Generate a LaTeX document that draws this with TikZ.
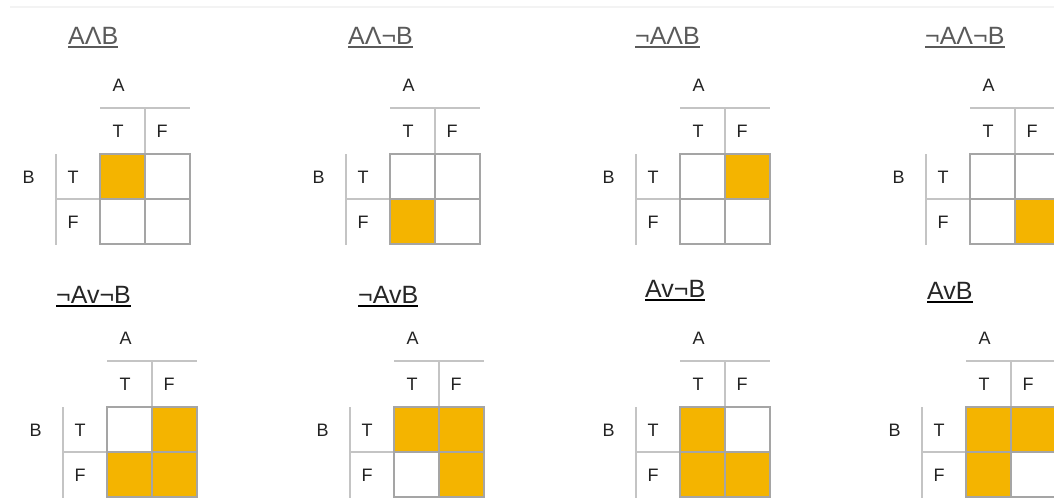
\documentclass[tikz,border=0pt]{standalone}
\usepackage{fontspec}
\setmainfont{Liberation Sans}
\definecolor{kgold}{RGB}{244,180,0}
\definecolor{cellline}{RGB}{165,165,165}
\definecolor{hdrline}{RGB}{196,196,196}
\definecolor{lbltext}{RGB}{34,34,34}
\definecolor{ttop}{RGB}{90,90,90}
\definecolor{tbot}{RGB}{38,38,38}
\tikzset{
  lbl/.style={anchor=west,inner sep=0pt,text=lbltext,font=\fontsize{18}{21}\selectfont},
  ktitle/.style={anchor=base west,inner sep=0pt,font=\fontsize{25}{30}\selectfont},
  cellbox/.style={draw=cellline,line width=1.4pt,minimum size=45pt,inner sep=0pt,outer sep=0pt},
  hdr/.style={draw=hdrline,line width=1.6pt},
  on/.style={fill=kgold},
  off/.style={fill=white}
}
% #1 prefix, #2 X, #3 Y, #4 title, #5 title pos, #6 TT, #7 TF(row T col F), #8 FT, #9 FF
\newcommand\kpanel[9]{%
  \node[ktitle] (#1title) at (#5) {#4};
  \draw[line width=1.8pt] ([yshift=-3pt]#1title.base west) -- ([yshift=-3pt]#1title.base east);
  \draw[hdr] ({#2},{#3}) -- ({#2+90},{#3});
  \draw[hdr] ({#2+45},{#3}) -- ({#2+45},{#3+46});
  \draw[hdr] ({#2-44},{#3+46}) -- ({#2-44},{#3+137});
  \draw[hdr] ({#2-44},{#3+91}) -- ({#2},{#3+91});
  \node[cellbox,#6] (#1tt) at ({#2+22.5},{#3+68.5}) {};
  \node[cellbox,#7] (#1tf) at ({#2+67.5},{#3+68.5}) {};
  \node[cellbox,#8] (#1ft) at ({#2+22.5},{#3+113.5}) {};
  \node[cellbox,#9] (#1ff) at ({#2+67.5},{#3+113.5}) {};
  \node[lbl] (#1a) at ({#2+12.5},{#3-23}) {A};
  \node[lbl] (#1ht) at ({#2+12.5},{#3+23}) {T};
  \node[lbl] (#1hf) at ({#2+56.5},{#3+23}) {F};
  \node[lbl] (#1b) at ({#2-77.5},{#3+69}) {B};
  \node[lbl] (#1rt) at ({#2-32.5},{#3+69}) {T};
  \node[lbl] (#1rf) at ({#2-32.5},{#3+114}) {F};
}
\begin{document}
\begin{tikzpicture}[x=1pt,y=-1pt]
\useasboundingbox (0,0) rectangle (1054,498);
\clip (0,0) rectangle (1054,498);
\fill[white] (0,0) rectangle (1054,498);
\draw[draw={rgb,255:red,243;green,243;blue,243},line width=2pt] (10,7) -- (1054,7);
\begin{scope}[ktitle/.append style={text=ttop},every path/.append style={draw=ttop}]
\kpanel{p1}{100}{108}{AΛB}{68,44}{on}{off}{off}{off}
\kpanel{p2}{390}{108}{AΛ¬B}{348,44}{off}{off}{on}{off}
\kpanel{p3}{680}{108}{¬AΛB}{635,44}{off}{on}{off}{off}
\kpanel{p4}{970}{108}{¬AΛ¬B}{925,44}{off}{off}{off}{on}
\end{scope}
\begin{scope}[ktitle/.append style={text=tbot}]
\kpanel{q1}{107}{361}{¬Av¬B}{56,303}{off}{on}{on}{on}
\kpanel{q2}{394}{361}{¬AvB}{358,303}{on}{on}{off}{on}
\kpanel{q3}{680}{361}{Av¬B}{645,297}{on}{off}{on}{on}
\kpanel{q4}{966}{361}{AvB}{927,299}{on}{on}{on}{off}
\end{scope}
\end{tikzpicture}
\end{document}
